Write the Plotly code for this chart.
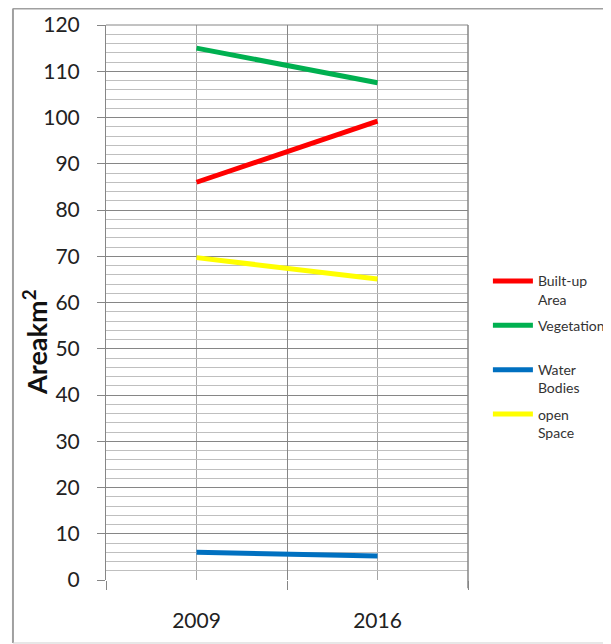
import plotly.graph_objects as go

years = ["2009", "2016"]
built_up = [86.0, 99.2]
vegetation = [115.0, 107.5]
water = [6.0, 5.2]
open_space = [69.7, 65.1]

series = [
    ("Built-up<br>Area", built_up, "#FF0000"),
    ("Vegetation<br> ", vegetation, "#00B050"),
    ("Water<br>Bodies", water, "#0070C0"),
    ("open<br>Space", open_space, "#FFFF00"),
]

xpos = list(range(len(years)))

fig = go.Figure()
for i, (name, vals, col) in enumerate(series):
    fig.add_trace(go.Scatter(
        x=xpos, y=vals, name=name, mode="lines",
        line=dict(color=col, width=5), legendgroup=str(i),
    ))

# invisible trace on overlay axis for category labels
fig.add_trace(go.Scatter(x=xpos, y=[None, None], xaxis="x2", showlegend=False, hoverinfo="skip"))

font = "Lato, 'Open Sans', sans-serif"
frame = dict(color="#A0A0A0", width=2)
fig.update_layout(
    width=611, height=644,
    margin=dict(l=98, r=151, t=17, b=72, autoexpand=False),
    paper_bgcolor="white", plot_bgcolor="white",
    font=dict(family=font, color="#222222"),
    showlegend=True,
    legend=dict(
        x=1.055, y=0.567, xanchor="left", yanchor="top",
        font=dict(size=14, color="#333333"),
        valign="top", tracegroupgap=5, itemwidth=40,
        bgcolor="rgba(0,0,0,0)",
    ),
    xaxis=dict(
        range=[-0.5, 1.5],
        tickmode="array", tickvals=[-0.5, 0.5, 1.5], ticktext=["", "", ""],
        ticks="outside", ticklen=9, tickcolor="#868686", tickwidth=1,
        showgrid=True, gridcolor="#868686", gridwidth=1,
        minor=dict(tickmode="array", tickvals=xpos, showgrid=True,
                   gridcolor="#A6A6A6", gridwidth=1, ticks=""),
        showline=False, zeroline=False, fixedrange=True, automargin=False,
    ),
    xaxis2=dict(
        overlaying="x", matches="x", side="bottom",
        tickmode="array", tickvals=xpos, ticktext=years,
        showgrid=False, ticks="", showline=False, zeroline=False,
        tickfont=dict(size=21, family=font, color="#222222"),
        ticklabelstandoff=26, automargin=False,
    ),
    yaxis=dict(
        range=[0, 120], dtick=10,
        ticks="outside", ticklen=8, tickcolor="#868686",
        tickfont=dict(size=21, family=font, color="#222222"),
        ticklabelstandoff=13,
        showgrid=True, gridcolor="#868686", gridwidth=1,
        minor=dict(dtick=2, showgrid=True, gridcolor="#BFBFBF", gridwidth=1, ticks=""),
        showline=True, linecolor="#868686", linewidth=1,
        zeroline=False, automargin=False,
    ),
    annotations=[
        dict(text="<b>Areakm<sup>2</sup></b>", xref="paper", yref="paper",
             x=-0.196, y=0.429, xanchor="center", yanchor="middle",
             textangle=-90, showarrow=False,
             font=dict(size=27, family=font, color="#111111")),
    ],
    shapes=[
        dict(type="line", xref="paper", yref="paper",
             x0=-0.257, x1=-0.257, y0=-0.1135, y1=1.0297, line=frame, layer="below"),
        dict(type="line", xref="paper", yref="paper",
             x0=-0.257, x1=1.5, y0=1.0297, y1=1.0297, line=frame, layer="below"),
        dict(type="line", xref="paper", yref="paper",
             x0=-0.257, x1=1.5, y0=-0.1135, y1=-0.1135,
             line=dict(color="#D0D0D0", width=1), layer="below"),
        dict(type="line", xref="paper", yref="paper",
             x0=1, x1=1, y0=-0.015, y1=1,
             line=dict(color="#868686", width=1.5)),
        dict(type="line", xref="paper", yref="paper",
             x0=0, x1=1, y0=1, y1=1,
             line=dict(color="#868686", width=1)),
    ],
)

fig.write_html("out.html")
